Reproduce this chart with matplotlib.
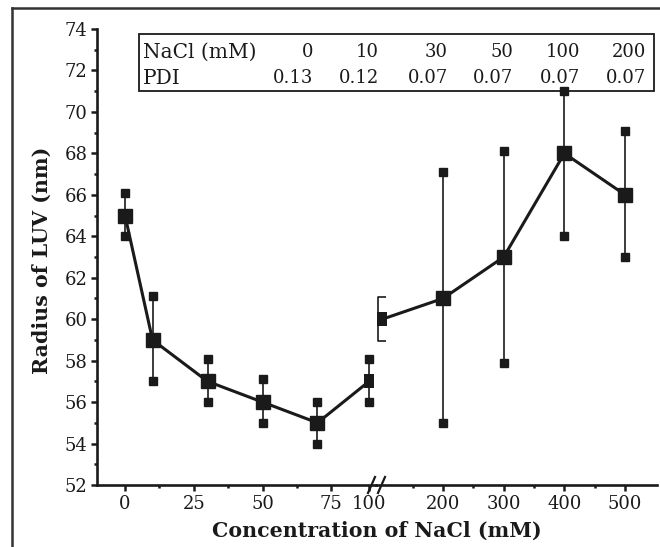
import numpy as np
import matplotlib
matplotlib.use("Agg")
import matplotlib.pyplot as plt
from matplotlib.lines import Line2D
from matplotlib.path import Path
from matplotlib.ticker import MultipleLocator, FixedLocator

# ---- data ----
left_x = [0, 10, 30, 50, 70, 100]
left_y = [65, 59, 57, 56, 55, 57]
left_lo = [64, 57, 56, 55, 54, 56]
left_hi = [66.1, 61.1, 58.1, 57.1, 56.0, 58.1]

right_x = [200, 300, 400, 500]
right_y = [61, 63, 68, 66]
right_lo = [55, 57.9, 64, 63]
right_hi = [67.1, 68.1, 71, 69.1]

mid_x = 100
mid_y = 60.0

table_conc = ["0", "10", "30", "50", "100", "200"]
table_pdi = ["0.13", "0.12", "0.07", "0.07", "0.07", "0.07"]

left_ticks = [0, 25, 50, 75, 100]
right_ticks = [200, 300, 400, 500]

plt.rcParams['font.family'] = ['DejaVu Serif']
INK = '#1a1a1a'

W, H = 660, 547
fig = plt.figure(figsize=(W / 100, H / 100), dpi=100)

def fx(px):
    return px / W

def fy(py):
    return 1 - py / H

brk = 376
axL = fig.add_axes([fx(97), fy(485), fx(brk - 97), fy(29) - fy(485)])
axR = fig.add_axes([fx(brk), fy(485), fx(657 - brk), fy(29) - fy(485)], sharey=axL)

# compressed segment between 75 and 100 on left axis
def fwd(x):
    x = np.asarray(x, dtype=float)
    return np.where(x <= 75, x, 75 + (x - 75) * 0.55)

def inv(p):
    p = np.asarray(p, dtype=float)
    return np.where(p <= 75, p, 75 + (p - 75) / 0.55)

axL.set_xscale('function', functions=(fwd, inv))
axL.set_xlim(-10.2, 104.6)
axR.set_xlim(89.6, 552.6)
axL.set_ylim(52, 74)

lw_line = 2.2
ms_main = 9.5
ms_cap = 5.8

narrow = Path([(-0.65, -1), (0.65, -1), (0.65, 1), (-0.65, 1), (-0.65, -1)],
              [Path.MOVETO, Path.LINETO, Path.LINETO, Path.LINETO, Path.CLOSEPOLY])

# left segment
axL.vlines(left_x, left_lo, left_hi, color=INK, lw=1.2, zorder=2)
axL.plot(left_x, left_lo, 's', color=INK, ms=ms_cap, zorder=3)
axL.plot(left_x, left_hi, 's', color=INK, ms=ms_cap, zorder=3)
axL.plot(left_x, left_y, '-', color=INK, lw=lw_line, zorder=4)
axL.plot(left_x[:-1], left_y[:-1], 's', color=INK, ms=ms_main, zorder=4)
axL.plot(left_x[-1:], left_y[-1:], marker=narrow, color=INK, ms=10.5, mew=0,
         linestyle='none', zorder=4)

# right segment
axR.vlines(right_x, right_lo, right_hi, color=INK, lw=1.2, zorder=2)
axR.plot(right_x, right_lo, 's', color=INK, ms=ms_cap, zorder=3)
axR.plot(right_x, right_hi, 's', color=INK, ms=ms_cap, zorder=3)
axR.plot([mid_x] + right_x, [mid_y] + right_y, '-', color=INK, lw=lw_line, zorder=4)
axR.plot(right_x, right_y, 's', color=INK, ms=ms_main, zorder=4)
axR.plot([mid_x], [mid_y], marker=narrow, color=INK, ms=10, mew=0,
         linestyle='none', zorder=5)
bracket = Path([(0.2, 1), (-0.2, 1), (-0.2, -1), (0.2, -1)],
               [Path.MOVETO, Path.LINETO, Path.LINETO, Path.LINETO])
axR.plot([mid_x], [mid_y], marker=bracket, ms=32, mfc='none', mec=INK, mew=1.2,
         linestyle='none', zorder=5)

# spines and ticks
for ax in (axL, axR):
    ax.spines['top'].set_visible(False)
    ax.spines['right'].set_visible(False)
    ax.spines['bottom'].set_linewidth(1.9)
    ax.spines['bottom'].set_color(INK)
    ax.tick_params(axis='both', which='major', direction='out', length=4, width=1.8,
                   color=INK, labelsize=13, labelcolor=INK, pad=3)
    ax.tick_params(axis='both', which='minor', direction='out', length=2, width=1.8, color=INK)
    ax.set_facecolor('none')

axL.spines['left'].set_linewidth(1.9)
axL.spines['left'].set_color(INK)
axR.spines['left'].set_visible(False)
axR.tick_params(axis='y', which='both', left=False, labelleft=False)

axL.yaxis.set_major_locator(MultipleLocator(2))
axL.yaxis.set_minor_locator(MultipleLocator(1))
axL.xaxis.set_major_locator(FixedLocator(left_ticks))
axL.xaxis.set_minor_locator(FixedLocator([12.5, 37.5, 62.5]))
axL.set_xticklabels([str(t) for t in left_ticks])
axR.xaxis.set_major_locator(FixedLocator(right_ticks))
axR.xaxis.set_minor_locator(FixedLocator([150, 250, 350, 450]))
axR.set_xticklabels([str(t) for t in right_ticks])

fig.text(fx(42), fy(260), 'Radius of LUV (nm)', fontsize=14.8, fontweight='bold',
         color=INK, ha='center', va='center', rotation=90)
fig.text(fx(377), fy(531), 'Concentration of NaCl (mM)', fontsize=14.8, fontweight='bold',
         color=INK, ha='center', va='center')

# break marks
for x0 in [fx(368), fx(378)]:
    fig.add_artist(Line2D([x0, x0 + fx(7)], [fy(493), fy(477)], color=INK, lw=1.6))

# table inset
fig.add_artist(plt.Rectangle((fx(139), fy(91)), fx(654 - 139), fy(34) - fy(91),
                             fill=False, ec=INK, lw=1.3, transform=fig.transFigure))
fig.text(fx(143), fy(52), 'NaCl (mM)', fontsize=14.5, color=INK, ha='left', va='center')
fig.text(fx(143), fy(78), 'PDI', fontsize=14.5, color=INK, ha='left', va='center')
col_right = [313, 379, 448, 513, 580, 646]
for cx, c, p in zip(col_right, table_conc, table_pdi):
    fig.text(fx(cx), fy(52), c, fontsize=13, color=INK, ha='right', va='center')
    fig.text(fx(cx), fy(78), p, fontsize=13, color=INK, ha='right', va='center')

# outer frame (cropped)
fig.add_artist(Line2D([fx(12), fx(12)], [fy(8), 0], color='#333333', lw=1.8))
fig.add_artist(Line2D([fx(12), 1], [fy(8), fy(8)], color='#333333', lw=1.8))

fig.savefig('out.png', dpi=100)
